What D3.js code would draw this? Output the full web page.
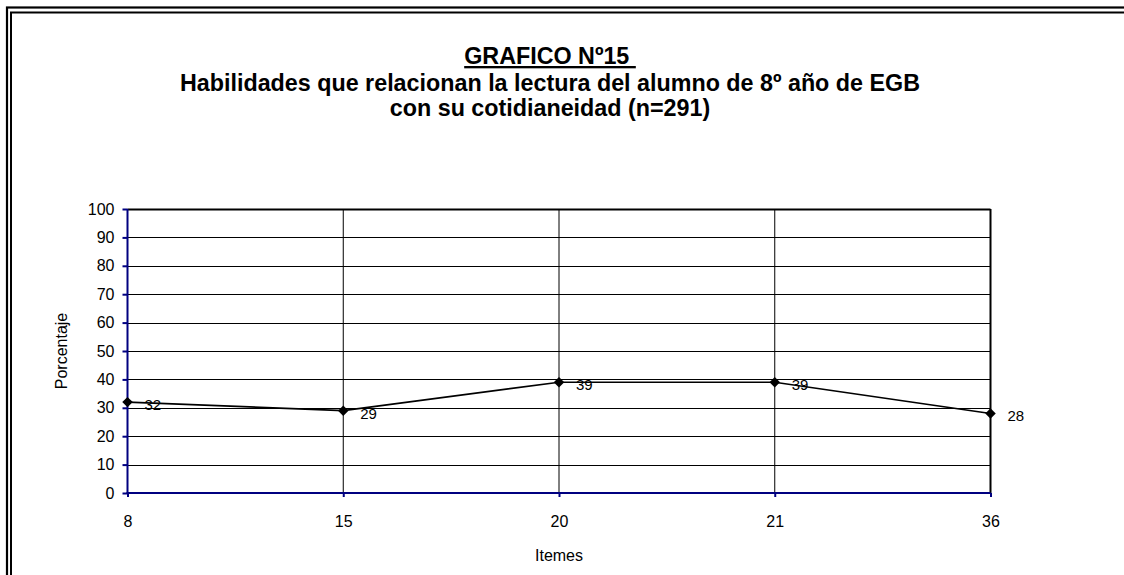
<!DOCTYPE html>
<html>
<head>
<meta charset="utf-8">
<script src="https://cdn.jsdelivr.net/npm/d3@7"></script>
<style>
  html, body { margin: 0; padding: 0; background: #fff; }
  svg { display: block; font-family: Arial, "Liberation Sans", sans-serif; }
</style>
</head>
<body>
<svg id="chart" width="1124" height="575"></svg>
<script>
// Item numbers on the x axis and the percentage reached on each one
const items = ["8", "15", "20", "21", "36"];
const percentages = [32, 29, 39, 39, 28];
const yTicks = [0, 10, 20, 30, 40, 50, 60, 70, 80, 90, 100];
const titleLines = [
  "Habilidades que relacionan la lectura del alumno de 8º año de EGB",
  "con su cotidianeidad (n=291)"
];
const titleHead = "GRAFICO Nº15 ";

const svg = d3.select("#chart");
const W = 1124, H = 575;
const plot = { left: 127.5, right: 990.5, top: 209, bottom: 493 };
const navy = "#000080";
const font = "Arial, 'Liberation Sans', sans-serif";

svg.append("rect").attr("width", W).attr("height", H).attr("fill", "#fff");

// double frame around the sheet (continues past the right and bottom edges)
svg.append("rect").attr("x", 7).attr("y", 7.5).attr("width", W + 20).attr("height", H + 20)
  .attr("fill", "none").attr("stroke", "#000").attr("stroke-width", 2.2);
svg.append("rect").attr("x", 11).attr("y", 12.5).attr("width", W + 20).attr("height", H + 20)
  .attr("fill", "none").attr("stroke", "#000").attr("stroke-width", 2);

// title block
const cx = 550;
svg.append("text").attr("x", cx).attr("y", 64).attr("text-anchor", "middle")
  .attr("font-size", 23.3).attr("font-weight", "bold").attr("text-decoration", "underline")
  .style("white-space", "pre").text(titleHead);
titleLines.forEach((t, i) => {
  svg.append("text").attr("x", cx).attr("y", 91 + i * 25).attr("text-anchor", "middle")
    .attr("font-size", 23.3).attr("font-weight", "bold").text(t);
});

const x = d3.scalePoint().domain(items).range([plot.left, plot.right]).padding(0);
const y = d3.scaleLinear().domain([0, 100]).range([plot.bottom, plot.top]);

// horizontal gridlines
svg.append("g").selectAll("line").data(yTicks.filter(d => d > 0)).join("line")
  .attr("x1", plot.left).attr("x2", plot.right)
  .attr("y1", d => Math.round(y(d)) + 0.5).attr("y2", d => Math.round(y(d)) + 0.5)
  .attr("stroke", "#000").attr("stroke-width", d => d === 100 ? 2 : 1);

// vertical gridlines at each item
svg.append("g").selectAll("line").data(items.slice(1)).join("line")
  .attr("x1", d => x(d)).attr("x2", d => x(d))
  .attr("y1", plot.top).attr("y2", plot.bottom)
  .attr("stroke", "#000").attr("stroke-width", (d, i, n) => i === n.length - 1 ? 2 : 1);

// y axis
const yAxis = svg.append("g").attr("transform", `translate(${plot.left},0)`)
  .call(d3.axisLeft(y).tickValues(yTicks).tickSize(5).tickPadding(8));
yAxis.select(".domain").attr("stroke", navy).attr("stroke-width", 2).attr("d", `M0,${plot.top}V${plot.bottom}`);
yAxis.selectAll(".tick line").attr("stroke", navy).attr("stroke-width", 2);
yAxis.selectAll(".tick text").attr("fill", "#000").attr("font-size", 16).attr("font-family", font);

// x axis
const xAxis = svg.append("g").attr("transform", `translate(0,${plot.bottom})`)
  .call(d3.axisBottom(x).tickSize(4).tickPadding(19));
xAxis.select(".domain").attr("stroke", navy).attr("stroke-width", 2).attr("d", `M${plot.left - 1},0H${plot.right}`);
xAxis.selectAll(".tick line").attr("stroke", navy).attr("stroke-width", 2);
xAxis.selectAll(".tick text").attr("fill", "#000").attr("font-size", 16).attr("font-family", font);

// axis titles
svg.append("text").attr("x", (plot.left + plot.right) / 2).attr("y", 561)
  .attr("text-anchor", "middle").attr("font-size", 16).text("Itemes");
svg.append("text").attr("transform", `translate(67,${(plot.top + plot.bottom) / 2}) rotate(-90)`)
  .attr("text-anchor", "middle").attr("font-size", 16).text("Porcentaje");

// series line
const pts = items.map((d, i) => ({ item: d, value: percentages[i] }));
svg.append("path").datum(pts)
  .attr("fill", "none").attr("stroke", "#000").attr("stroke-width", 1.7)
  .attr("d", d3.line().x(d => x(d.item)).y(d => y(d.value)));

// diamond markers
svg.append("g").selectAll("path").data(pts).join("path")
  .attr("transform", d => `translate(${x(d.item)},${y(d.value)})`)
  .attr("d", d3.symbol(d3.symbolDiamond2, 70)())
  .attr("fill", "#000");

// value labels
svg.append("g").selectAll("text").data(pts).join("text")
  .attr("x", d => x(d.item) + 17).attr("y", d => y(d.value) + 8)
  .attr("font-size", 15).attr("fill", "#000").text(d => d.value);
</script>
</body>
</html>
